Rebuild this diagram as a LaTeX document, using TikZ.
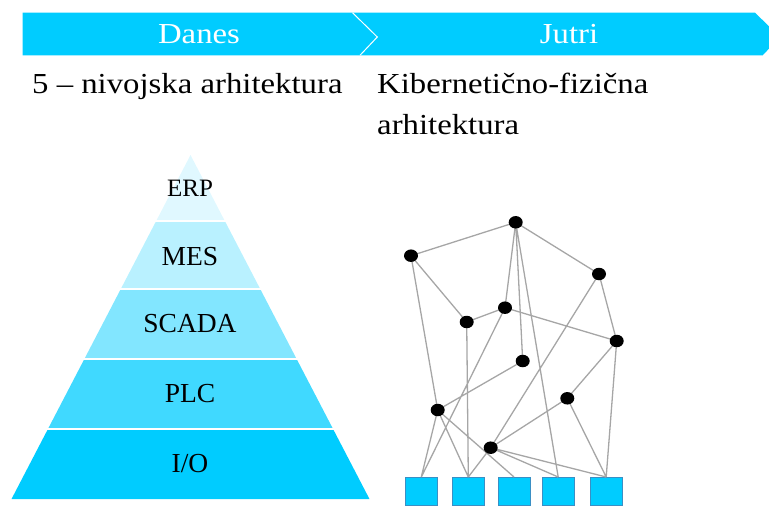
\documentclass[tikz,border=0pt]{standalone}
\usepackage{fontspec}
\usepackage{graphicx}
\setmainfont{Liberation Serif}
\usetikzlibrary{shapes.geometric}

\definecolor{hdrblue}{HTML}{00CCFF}
\definecolor{lvlA}{HTML}{E0F8FF}
\definecolor{lvlB}{HTML}{B9F1FF}
\definecolor{lvlC}{HTML}{82E6FF}
\definecolor{lvlD}{HTML}{40D9FF}
\definecolor{lvlE}{HTML}{00CCFF}
\definecolor{edgegray}{HTML}{A6A6A6}
\definecolor{boxline}{HTML}{3A8FC4}

\tikzset{
  hdrtext/.style={text=white, inner sep=0pt, anchor=base,
                  font=\fontsize{29}{34}\selectfont},
  subtext/.style={inner sep=0pt, anchor=base west,
                  font=\fontsize{29}{34}\selectfont},
  lvltext/.style={inner sep=0pt, anchor=base,
                  font=\fontsize{27.5}{32}\selectfont},
  dot/.style={ellipse, fill=black, minimum width=14pt, minimum height=12.5pt, inner sep=0pt},
  iobox/.style={rectangle, fill=hdrblue, draw=boxline, line width=0.8pt,
                minimum width=32pt, minimum height=28pt, inner sep=0pt, anchor=north},
  link/.style={draw=edgegray, line width=1.3pt}
}

\begin{document}
\begin{tikzpicture}[x=1pt,y=-1pt]
\useasboundingbox (0,0) rectangle (769,506);

% header arrow band
\fill[hdrblue] (22.7,12.7) -- (352.5,12.7) -- (377.3,37) -- (360,55.3) -- (22.7,55.3) -- cycle;
\fill[hdrblue] (352.5,12.7) -- (755,12.7) -- (780,37) -- (762.7,55.3) -- (360,55.3) -- (377.3,37) -- cycle;
\draw[white, line width=1pt] (352.5,12.7) -- (377.3,37) -- (360,55.3);
\node[hdrtext] (danes) at (199,43.7) {\scalebox{1.13}[1]{Danes}};
\node[hdrtext] (jutri) at (569,43.7) {\scalebox{1.13}[1]{Jutri}};

% column titles
\node[subtext] (left title) at (32,93.3) {\scalebox{1.13}[1]{5 – nivojska arhitektura}};
\node[subtext] (right title a) at (377,93.3) {\scalebox{1.13}[1]{Kibernetično-fizična}};
\node[subtext] (right title b) at (377,134) {\scalebox{1.13}[1]{arhitektura}};

% pyramid of levels (apex 190.5,155; base 11.5..369.5 at 499)
\def\py#1{(190.5-0.5203*(#1-155))}
\def\pr#1{(190.5+0.5203*(#1-155))}
\fill[lvlA] (190.5,155) -- ({\pr{221}},221) -- ({\py{221}},221) -- cycle;
\fill[lvlB] ({\py{221}},221) -- ({\pr{221}},221) -- ({\pr{289}},289) -- ({\py{289}},289) -- cycle;
\fill[lvlC] ({\py{289}},289) -- ({\pr{289}},289) -- ({\pr{359}},359) -- ({\py{359}},359) -- cycle;
\fill[lvlD] ({\py{359}},359) -- ({\pr{359}},359) -- ({\pr{429}},429) -- ({\py{429}},429) -- cycle;
\fill[lvlE] ({\py{429}},429) -- ({\pr{429}},429) -- ({\pr{499}},499) -- ({\py{499}},499) -- cycle;
\foreach \yy in {221,289,359,429}
  \draw[white, line width=1.2pt] ({\py{\yy}-1},\yy) -- ({\pr{\yy}+1},\yy);

\node[lvltext, font=\fontsize{25}{30}\selectfont] (erp) at (190,196) {ERP};
\node[lvltext] (mes) at (190,265) {MES};
\node[lvltext] (scada) at (190,332.3) {SCADA};
\node[lvltext] (plc) at (190,402.5) {PLC};
\node[lvltext] (io) at (190,472) {I/O};

% device boxes
\node[iobox] (s1) at (421.3,477) {};
\node[iobox] (s2) at (468.3,477) {};
\node[iobox] (s3) at (514,477) {};
\node[iobox] (s4) at (558.2,477) {};
\node[iobox] (s5) at (606.2,477) {};

% network node positions
\coordinate (pa) at (515.7,222.3);
\coordinate (pb) at (411,255.7);
\coordinate (pc) at (599,274);
\coordinate (pd) at (505,307.7);
\coordinate (pe) at (466.7,322);
\coordinate (pf) at (616.7,341);
\coordinate (pg) at (522.7,361);
\coordinate (ph) at (437.7,410);
\coordinate (pi) at (567.3,398.3);
\coordinate (pj) at (490.7,447.7);

% links
\path[link]
  (pa) -- (pb)  (pa) -- (pc)  (pa) -- (pd)  (pa) -- (pg)  (pa) -- (s4.north)
  (pb) -- (pe)  (pb) -- (ph)
  (pe) -- (pd)  (pe) -- (s2.north)
  (pd) -- (s1.north)  (pd) -- (pf)
  (pc) -- (pf)  (pc) -- (pj)
  (pf) -- (pi)  (pf) -- (s5.north)
  (pg) -- (ph)
  (pi) -- (pj)  (pi) -- (s5.north)
  (ph) -- (s1.north)  (ph) -- (s2.north)  (ph) -- (s3.north)
  (pj) -- (s2.north)  (pj) -- (s4.north)  (pj) -- (s5.north);

% network nodes
\foreach \n in {a,b,c,d,e,f,g,h,i,j}
  \node[dot] (n\n) at (p\n) {};
\end{tikzpicture}
\end{document}
